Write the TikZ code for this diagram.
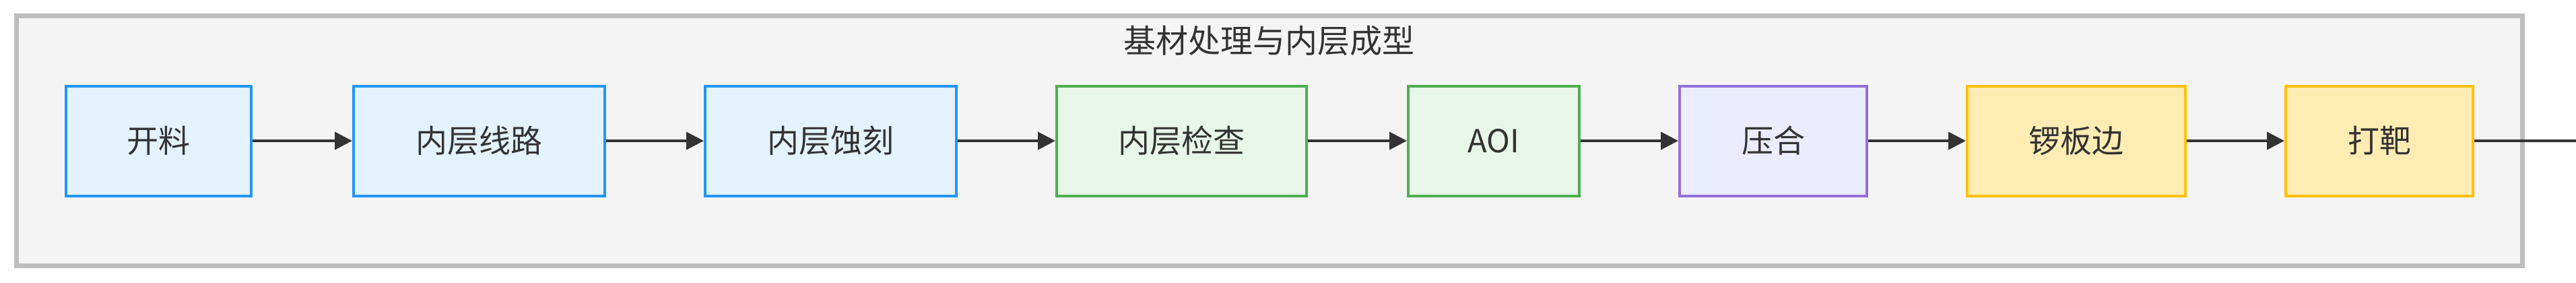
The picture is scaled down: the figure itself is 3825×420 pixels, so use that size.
\documentclass[tikz,border=0pt]{standalone}
\usepackage{fontspec}
\setmainfont{Noto Sans CJK SC}
\usetikzlibrary{arrows.meta}
\definecolor{bluefill}{HTML}{E3F2FD}\definecolor{blueline}{HTML}{2196F3}
\definecolor{greenfill}{HTML}{E8F5E9}\definecolor{greenline}{HTML}{4CAF50}
\definecolor{purplefill}{HTML}{ECECFF}\definecolor{purpleline}{HTML}{9370DB}
\definecolor{yellowfill}{HTML}{FFECB3}\definecolor{yellowline}{HTML}{FFC107}
\definecolor{framefill}{HTML}{F4F4F4}\definecolor{frameline}{HTML}{BDBDBD}
\definecolor{inkline}{HTML}{333333}
\begin{document}
\begin{tikzpicture}[x=1pt,y=-1pt,
 proc/.style={draw,line width=4pt,minimum height=163pt,inner sep=0pt,font=\fontsize{47}{53}\selectfont,text=inkline},
 bluebox/.style={proc,fill=bluefill,draw=blueline},
 greenbox/.style={proc,fill=greenfill,draw=greenline},
 purplebox/.style={proc,fill=purplefill,draw=purpleline},
 yellowbox/.style={proc,fill=yellowfill,draw=yellowline},
 flow/.style={draw=inkline,line width=4pt,-{Triangle[length=26pt,width=26pt]}}]
\useasboundingbox (0,0) rectangle (3825,420);
\draw[fill=framefill,draw=frameline,line width=7pt] (24,24) rectangle (3745,394);
\node[font=\fontsize{48}{54}\selectfont,text=inkline] (title) at (1884,60) {基材处理与内层成型};
\node[bluebox,minimum width=275pt] (kailiao) at (235.5,209) {开料};
\node[bluebox,minimum width=373pt] (xianlu) at (711.5,209) {内层线路};
\node[bluebox,minimum width=373pt] (shike) at (1233.5,209) {内层蚀刻};
\node[greenbox,minimum width=371pt] (jiancha) at (1754.5,209) {内层检查};
\node[greenbox,minimum width=254pt] (aoi) at (2218,209) {AOI};
\node[purplebox,minimum width=278pt] (yahe) at (2633,209) {压合};
\node[yellowbox,minimum width=324pt] (luoban) at (3083,209) {锣板边};
\node[yellowbox,minimum width=278pt] (daba) at (3533,209) {打靶};
\coordinate (out) at (3825,209);
\draw[flow] (kailiao) -- (xianlu);
\draw[flow] (xianlu) -- (shike);
\draw[flow] (shike) -- (jiancha);
\draw[flow] (jiancha) -- (aoi);
\draw[flow] (aoi) -- (yahe);
\draw[flow] (yahe) -- (luoban);
\draw[flow] (luoban) -- (daba);
\draw[draw=inkline,line width=4pt] (daba) -- (out);
\end{tikzpicture}
\end{document}
